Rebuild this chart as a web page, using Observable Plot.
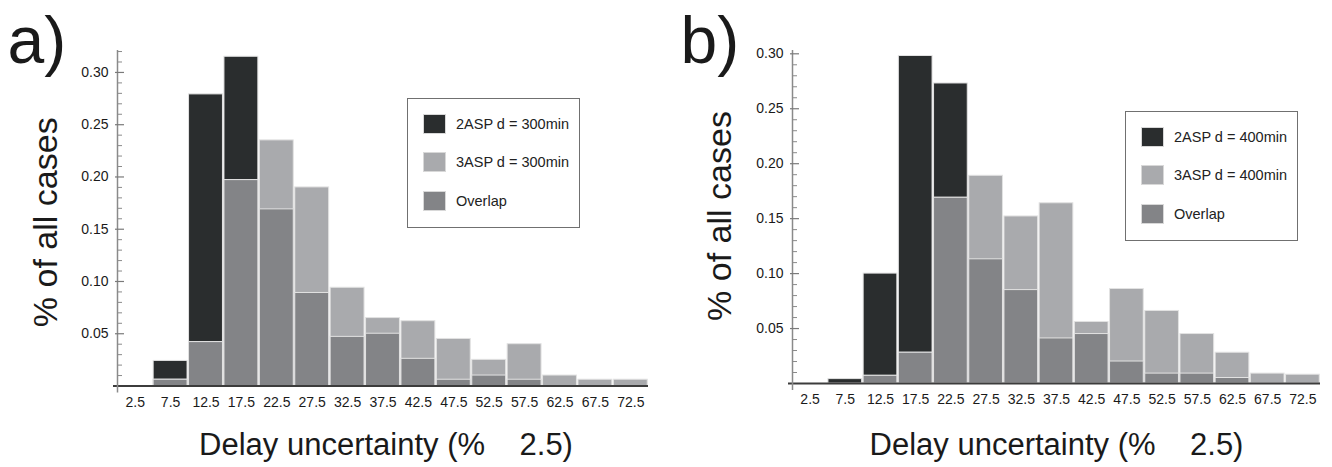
<!DOCTYPE html>
<html><head><meta charset="utf-8">
<script src="https://cdn.jsdelivr.net/npm/d3@7"></script>
<script src="https://cdn.jsdelivr.net/npm/@observablehq/plot@0.6"></script>
<style>
body{margin:0;background:#fff;}
#wrap{position:relative;width:1332px;height:467px;overflow:hidden;font-family:"Liberation Sans",Arial,Helvetica,sans-serif;}
.panel{position:absolute;top:0;width:666px;height:467px;}
svg text{white-space:pre;}
.legend{position:absolute;border:1px solid #707070;background:#fff;box-sizing:border-box;width:173px;height:130px;}
.sw{position:absolute;left:15px;width:23px;height:20px;box-sizing:border-box;border:1px solid #d8d8d8;}
.lab{position:absolute;left:48px;font-size:14.5px;color:#222;line-height:20px;white-space:pre;}
</style></head>
<body>
<div id="wrap"></div>
<script>
// ---- data ----
const bins = [2.5, 7.5, 12.5, 17.5, 22.5, 27.5, 32.5, 37.5, 42.5, 47.5, 52.5, 57.5, 62.5, 67.5, 72.5];
const a2ASP = [0, 0.024, 0.279, 0.315, 0.169, 0.089, 0.047, 0.050, 0.026, 0.006, 0.010, 0.006, 0, 0, 0];
const a3ASP = [0, 0.006, 0.042, 0.197, 0.235, 0.190, 0.094, 0.065, 0.062, 0.045, 0.025, 0.040, 0.010, 0.006, 0.006];
const b2ASP = [0, 0.004, 0.100, 0.298, 0.273, 0.113, 0.085, 0.041, 0.045, 0.020, 0.009, 0.009, 0.005, 0, 0];
const b3ASP = [0, 0, 0.007, 0.028, 0.169, 0.189, 0.152, 0.164, 0.056, 0.086, 0.066, 0.045, 0.028, 0.009, 0.008];
const yTicks = [0.05, 0.10, 0.15, 0.20, 0.25, 0.30];
const legendA = ["2ASP d = 300min", "3ASP d = 300min", "Overlap"];
const legendB = ["2ASP d = 400min", "3ASP d = 400min", "Overlap"];
const colors = ["#2a2d2e", "#a9aaad", "#838487"];
const yLabel = "% of all cases";
const xLabel = "Delay uncertainty (%    2.5)";

const FONT = '"Liberation Sans", Arial, Helvetica, sans-serif';

function makePanel(cfg) {
  const rows = bins.map((c, i) => ({c, lo: c - 2.5, hi: c + 2.5, s2: cfg.v2[i], s3: cfg.v3[i], ov: Math.min(cfg.v2[i], cfg.v3[i])}));
  const minor = d3.range(1, Math.round(cfg.minorMax * 100) + 1).map(k => k / 100).filter(v => !yTicks.some(t => Math.abs(t - v) < 1e-9));
  const barOpts = (key, fill) => ({x1: "lo", x2: "hi", y1: 0, y2: key, fill, stroke: "#e2e2e2", strokeWidth: 1, insetLeft: 0.75, insetRight: 0.75});
  const plot = Plot.plot({
    width: 666, height: 467,
    marginLeft: cfg.mL, marginRight: cfg.mR, marginTop: 50, marginBottom: cfg.mB,
    x: {domain: [0, 75]},
    y: {domain: [0, cfg.yMax]},
    style: {fontFamily: FONT, fontSize: "14px", color: "#1a1a1a", background: "transparent", overflow: "visible"},
    marks: [
      Plot.rectY(rows.filter(d => d.s2 > 0), barOpts("s2", colors[0])),
      Plot.rectY(rows.filter(d => d.s3 > 0), barOpts("s3", colors[1])),
      Plot.rectY(rows.filter(d => d.ov > 0), barOpts("ov", colors[2])),
      Plot.ruleY([0], {stroke: "#3c3c3c", strokeWidth: 2, insetLeft: -4}),
      Plot.ruleX([0], {stroke: "#8a8a8a", strokeWidth: 1.5, insetBottom: -7}),
      Plot.ruleY(yTicks, {x1: 0, x2: 0, insetLeft: -2, insetRight: -7, stroke: "#7a7a7a", strokeWidth: 1.2}),
      Plot.ruleY(minor, {x1: 0, x2: 0, insetLeft: 0, insetRight: -5, stroke: "#8a8a8a", strokeWidth: 1}),
      Plot.axisY(yTicks, {tickSize: 0, tickPadding: 9, tickFormat: d => d.toFixed(2), label: null, fontSize: 14}),
      Plot.axisX(bins, {tickSize: 0, tickPadding: 11, tickFormat: d => d.toFixed(1), label: null, fontSize: 14}),
      Plot.text([yLabel], {text: d => d, frameAnchor: "left", textAnchor: "middle", rotate: -90, dx: cfg.yLdx, dy: cfg.yLdy, fontSize: 34, fill: "#1a1a1a"}),
      Plot.text([xLabel], {text: d => d, frameAnchor: "bottom", textAnchor: "middle", lineAnchor: "bottom", dx: cfg.xLdx, dy: cfg.xLdy, fontSize: 31, fill: "#1a1a1a"}),
      Plot.text([cfg.tag], {text: d => d, frameAnchor: "top-left", textAnchor: "start", lineAnchor: "bottom", dx: cfg.tagDx, dy: 12, fontSize: 66, fill: "#1a1a1a"})
    ]
  });
  const div = document.createElement("div");
  div.className = "panel";
  div.style.left = cfg.left + "px";
  div.appendChild(plot);
  const leg = document.createElement("div");
  leg.className = "legend";
  leg.style.left = cfg.legL + "px";
  leg.style.top = cfg.legT + "px";
  cfg.legend.forEach((txt, i) => {
    const top = [15, 53, 92][i];
    const sw = document.createElement("div");
    sw.className = "sw"; sw.style.top = top + "px"; sw.style.background = colors[i];
    const lab = document.createElement("div");
    lab.className = "lab"; lab.style.top = top + "px"; lab.textContent = txt;
    leg.appendChild(sw); leg.appendChild(lab);
  });
  div.appendChild(leg);
  return div;
}

const wrap = document.getElementById("wrap");
wrap.appendChild(makePanel({left: 0, v2: a2ASP, v3: a3ASP, yMax: 0.321, minorMax: 0.32, mL: 117, mR: 18, mB: 81.5,
  yLdx: -71, yLdy: 4, xLdx: 3, xLdy: 68.5, tag: "a)", tagDx: -110, legend: legendA, legL: 407, legT: 98}));
wrap.appendChild(makePanel({left: 666, v2: b2ASP, v3: b3ASP, yMax: 0.303, minorMax: 0.30, mL: 126, mR: 12, mB: 84,
  yLdx: -72, yLdy: -1, xLdx: 0, xLdy: 71, tag: "b)", tagDx: -112, legend: legendB, legL: 459, legT: 111}));
</script>
</body></html>
